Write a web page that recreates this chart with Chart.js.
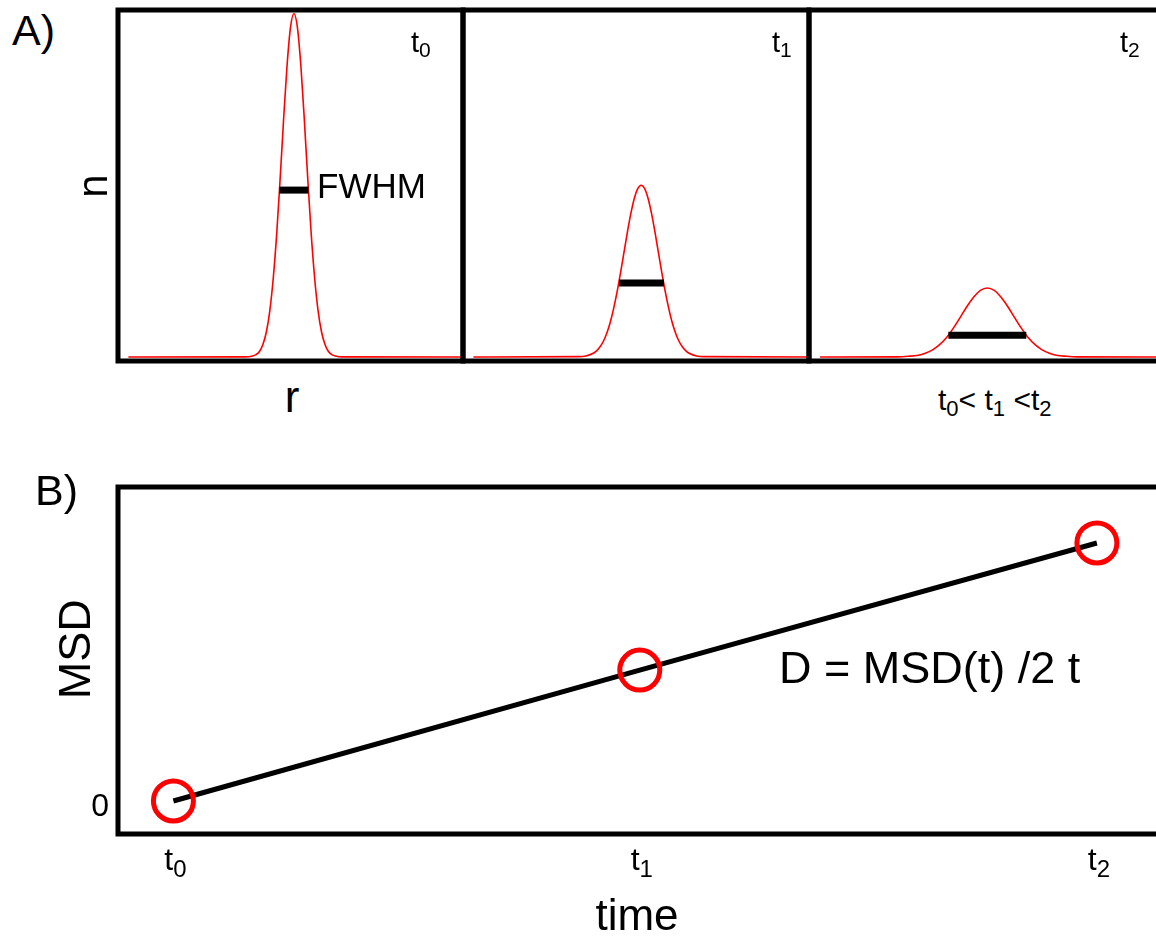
<!DOCTYPE html>
<html>
<head>
<meta charset="utf-8">
<script src="https://cdn.jsdelivr.net/npm/chart.js@4.4.1/dist/chart.umd.min.js"></script>
<style>
html,body{margin:0;padding:0;background:#fff;overflow:hidden;}
#wrap{position:relative;width:1156px;height:940px;font-family:"Liberation Sans",Arial,sans-serif;color:#000;}
canvas{position:absolute;}
.lbl{position:absolute;white-space:nowrap;line-height:1;}
.lbl span.sb{position:relative;}
</style>
</head>
<body>
<div id="wrap">
  <canvas id="a1" width="357" height="363" style="left:112px;top:4px;"></canvas>
  <canvas id="a2" width="358" height="363" style="left:457px;top:4px;"></canvas>
  <canvas id="a3" width="353" height="363" style="left:803px;top:4px;"></canvas>
  <canvas id="b" width="1156" height="470" style="left:0px;top:470px;"></canvas>

  <div class="lbl" style="left:12px;top:9px;font-size:43px;">A)</div>
  <div class="lbl" style="left:35px;top:469px;font-size:43px;">B)</div>
  <div class="lbl" style="left:93px;top:186px;font-size:42px;transform:translate(-50%,-50%) rotate(-90deg);">n</div>
  <div class="lbl" style="left:292px;top:375px;font-size:44px;transform:translateX(-50%);">r</div>
  <div class="lbl" style="left:411px;top:28px;font-size:29px;">t<span class="sb" style="font-size:21px;top:5px;">0</span></div>
  <div class="lbl" style="left:772px;top:28px;font-size:29px;">t<span class="sb" style="font-size:21px;top:5px;">1</span></div>
  <div class="lbl" style="left:1120px;top:28px;font-size:29px;">t<span class="sb" style="font-size:21px;top:5px;">2</span></div>
  <div class="lbl" style="left:317px;top:168px;font-size:35px;">FWHM</div>
  <div class="lbl" style="left:938px;top:385px;font-size:30px;">t<span class="sb" style="font-size:22px;top:6px;">0</span>&lt; t<span class="sb" style="font-size:22px;top:6px;">1</span> &lt;t<span class="sb" style="font-size:22px;top:6px;">2</span></div>
  <div class="lbl" style="left:779px;top:645px;font-size:45px;">D = MSD(t) /2 t</div>
</div>
<script>
// ---------- Panel A: distributions n(r) at three times ----------
const r1 = [3, 37, 39, 40, 41, 42, 43, 44, 45, 46, 47, 48, 49, 50, 51, 52, 53, 54, 55, 56, 57, 58, 59, 60, 61, 62, 63, 65, 99.3];
const n1 = [0, 0.05, 0.3, 0.7, 1.6, 3.6, 7.2, 13.3, 22.7, 35.5, 51.4, 68.5, 84.0, 95.0, 99, 95.0, 84.0, 68.5, 51.4, 35.5, 22.7, 13.3, 7.2, 3.6, 1.6, 0.7, 0.3, 0.05, 0];

const r2 = [3, 33.5, 35.5, 37.5, 38.5, 39.5, 40.5, 41.5, 42.5, 43.5, 44.5, 45.5, 46.5, 47.5, 48.5, 49.5, 50.5, 51.5, 52.5, 53.5, 54.5, 55.5, 56.5, 57.5, 58.5, 59.5, 60.5, 61.5, 62.5, 63.5, 64.5, 65.5, 67.5, 69.5, 99.5];
const n2 = [0, 0.1, 0.3, 1.0, 1.7, 2.8, 4.4, 6.7, 9.8, 13.8, 18.6, 24.1, 30.0, 35.9, 41.3, 45.7, 48.5, 49.5, 48.5, 45.7, 41.3, 35.9, 30.0, 24.1, 18.6, 13.8, 9.8, 6.7, 4.4, 2.8, 1.7, 1.0, 0.3, 0.1, 0];

const r3 = [3.2, 25.7, 28.7, 31.7, 33.7, 35.7, 37.7, 39.7, 41.7, 43.7, 45.7, 47.7, 49.7, 51.7, 53.7, 55.7, 57.7, 59.7, 61.7, 63.7, 65.7, 67.7, 69.7, 71.7, 74.7, 77.7, 100.6];
const n3 = [0, 0.05, 0.2, 0.5, 1.1, 2.0, 3.4, 5.4, 8.1, 11.2, 14.4, 17.2, 19.2, 19.9, 19.2, 17.2, 14.4, 11.2, 8.1, 5.4, 3.4, 2.0, 1.1, 0.5, 0.2, 0.05, 0];

// FWHM bars: [start r, end r] and height n
const fwhmR1 = [46.8, 55.2];
const fwhmR2 = [45.1, 58.1];
const fwhmR3 = [40.4, 63.0];
const fwhmN = [48.1, 21.3, 6.3];

// ---------- Panel B: MSD vs time ----------
const timeValues = [0, 1.01, 2];
const msdValues = [0, 1.015, 2];
const xTickValues = [0, 1.01, 2];
const xTickMain = ['t', 't', 't'];
const xTickSub = ['0', '1', '2'];
const yTickValues = [0];

const FONT = '"Liberation Sans", Arial, sans-serif';
const RED = '#ff0000';

function pts(xs, ys) { return xs.map((x, i) => ({x: x, y: ys[i]})); }

const boxPlugin = {
  id: 'boxBorder',
  beforeDatasetsDraw(chart, args, opts) {
    const a = chart.chartArea, ctx = chart.ctx;
    ctx.save();
    ctx.strokeStyle = '#000';
    ctx.lineWidth = 5;
    ctx.lineJoin = 'miter';
    ctx.lineCap = 'square';
    ctx.beginPath();
    if (opts.closed) {
      ctx.rect(a.left, a.top, a.right - a.left, a.bottom - a.top);
    } else {
      ctx.moveTo(a.right + 3, a.top);
      ctx.lineTo(a.left, a.top);
      ctx.lineTo(a.left, a.bottom);
      ctx.lineTo(a.right + 3, a.bottom);
    }
    ctx.stroke();
    ctx.restore();
  }
};

function panelChart(id, rs, ns, fr, fn, xmax, closed, padRight) {
  return new Chart(document.getElementById(id), {
    type: 'line',
    data: {
      datasets: [
        {data: pts(fr, [fn, fn]), borderColor: '#000', borderWidth: 7, pointRadius: 0, borderCapStyle: 'butt'},
        {data: pts(rs, ns), borderColor: RED, borderWidth: 1.6, pointRadius: 0, cubicInterpolationMode: 'monotone'}
      ]
    },
    options: {
      responsive: false,
      animation: false,
      devicePixelRatio: 1,
      layout: {autoPadding: false, padding: {left: 6, top: 6, right: padRight, bottom: 6}},
      plugins: {legend: {display: false}, tooltip: {enabled: false}, boxBorder: {closed: closed}},
      elements: {line: {fill: false}},
      scales: {
        x: {type: 'linear', display: false, min: 0, max: xmax},
        y: {type: 'linear', display: false, min: -1.15, max: 100}
      }
    },
    plugins: [boxPlugin]
  });
}

panelChart('a1', r1, n1, fwhmR1, fwhmN[0], 100, true, 6);
panelChart('a2', r2, n2, fwhmR2, fwhmN[1], 100, true, 6);
panelChart('a3', r3, n3, fwhmR3, fwhmN[2], 100.6, false, 0);

const subTickPlugin = {
  id: 'subTicks',
  afterDraw(chart) {
    const xs = chart.scales.x, ctx = chart.ctx, base = chart.chartArea.bottom;
    ctx.save();
    ctx.fillStyle = '#000';
    ctx.textBaseline = 'alphabetic';
    ctx.textAlign = 'left';
    xTickValues.forEach((v, i) => {
      const px = xs.getPixelForValue(v);
      ctx.font = '32px ' + FONT;
      const w1 = ctx.measureText(xTickMain[i]).width;
      ctx.font = '24px ' + FONT;
      const w2 = ctx.measureText(xTickSub[i]).width;
      const x0 = px - (w1 + w2) / 2 + 2;
      ctx.font = '32px ' + FONT;
      ctx.fillText(xTickMain[i], x0, base + 36);
      ctx.font = '24px ' + FONT;
      ctx.fillText(xTickSub[i], x0 + w1, base + 43);
    });
    ctx.restore();
  }
};

new Chart(document.getElementById('b'), {
  type: 'line',
  data: {
    datasets: [{
      data: pts(timeValues, msdValues),
      borderColor: '#000',
      borderWidth: 5,
      pointRadius: 20,
      pointBorderWidth: 5,
      pointBorderColor: RED,
      pointBackgroundColor: 'rgba(0,0,0,0)',
      tension: 0,
      clip: false
    }]
  },
  options: {
    responsive: false,
    animation: false,
    devicePixelRatio: 1,
    layout: {autoPadding: false, padding: {left: 0, top: 17, right: 0, bottom: 0}},
    plugins: {legend: {display: false}, tooltip: {enabled: false}, boxBorder: {closed: false}},
    scales: {
      x: {
        type: 'linear', min: -0.12, max: 2.128,
        grid: {display: false, drawTicks: false}, border: {display: false},
        ticks: {display: false},
        afterBuildTicks: s => { s.ticks = xTickValues.map(v => ({value: v})); },
        title: {display: true, text: 'time', color: '#000', font: {size: 44, family: FONT, lineHeight: 1}, padding: 0},
        afterFit: s => { s.height = 106; s.paddingLeft = 0; s.paddingRight = 0; }
      },
      y: {
        type: 'linear', min: -0.256, max: 2.434,
        grid: {display: false, drawTicks: false}, border: {display: false},
        afterBuildTicks: s => { s.ticks = yTickValues.map(v => ({value: v})); },
        ticks: {color: '#000', font: {size: 32, family: FONT}, padding: 9, labelOffset: 6},
        title: {display: true, text: '\u2002MSD', color: '#000', font: {size: 45, family: FONT, lineHeight: 1}, padding: {top: 55, bottom: 0}},
        afterFit: s => { s.width = 118; s.paddingTop = 0; s.paddingBottom = 0; }
      }
    }
  },
  plugins: [boxPlugin, subTickPlugin]
});
</script>
</body>
</html>
